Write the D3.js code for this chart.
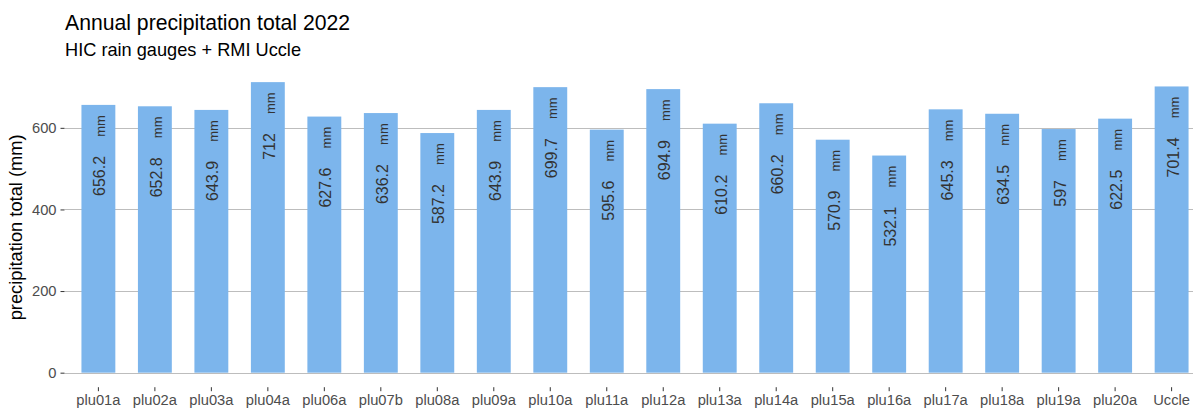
<!DOCTYPE html>
<html>
<head>
<meta charset="utf-8">
<script src="https://cdn.jsdelivr.net/npm/d3@7"></script>
<style>
  html, body { margin: 0; padding: 0; background: #fff; }
  svg { display: block; font-family: "Liberation Sans", Arial, sans-serif; }
</style>
</head>
<body>
<svg id="chart" width="1193" height="410"></svg>
<script>
const categories = ["plu01a","plu02a","plu03a","plu04a","plu06a","plu07b","plu08a","plu09a","plu10a","plu11a","plu12a","plu13a","plu14a","plu15a","plu16a","plu17a","plu18a","plu19a","plu20a","Uccle"];
const values = [656.2, 652.8, 643.9, 712, 627.6, 636.2, 587.2, 643.9, 699.7, 595.6, 694.9, 610.2, 660.2, 570.9, 532.1, 645.3, 634.5, 597, 622.5, 701.4];
const yTicks = [0, 200, 400, 600];
const titleText = "Annual precipitation total 2022";
const subtitleText = "HIC rain gauges + RMI Uccle";
const yTitle = "precipitation total (mm)";
const unitLabel = "mm";

const svg = d3.select("#chart");
const panel = {left: 64.5, right: 1205.5, top: 67.6, bottom: 387.2};

const maxV = d3.max(values);
const pad = maxV * 0.05;
const y = d3.scaleLinear().domain([-pad, maxV + pad]).range([panel.bottom, panel.top]);
const x = d3.scaleBand().domain(categories).range([panel.left, panel.right])
  .paddingInner(0.4).paddingOuter(0.3);

// grid
svg.append("g").selectAll("line").data(yTicks).join("line")
  .attr("x1", panel.left).attr("x2", panel.right)
  .attr("y1", d => Math.round(y(d)) + 0.5).attr("y2", d => Math.round(y(d)) + 0.5)
  .attr("stroke", "#bdbdbd").attr("stroke-width", 1);

// bars
svg.append("g").selectAll("rect").data(values).join("rect")
  .attr("x", (d, i) => x(categories[i]))
  .attr("width", x.bandwidth())
  .attr("y", d => y(d))
  .attr("height", d => y(0) - y(d))
  .attr("fill", "#7cb5ec");

// value labels
const labG = svg.append("g").attr("fill", "#333333");
labG.selectAll("text.v").data(values).join("text").attr("class", "v")
  .attr("transform", (d, i) => `translate(${x(categories[i]) + x.bandwidth()/2 + 7},${y(d - 125)}) rotate(-90)`)
  .attr("text-anchor", "end")
  .attr("font-size", "16px")
  .text(d => String(d));
labG.selectAll("text.u").data(values).join("text").attr("class", "u")
  .attr("transform", (d, i) => `translate(${x(categories[i]) + x.bandwidth()/2 + 7},${y(d - 25)}) rotate(-90)`)
  .attr("text-anchor", "end")
  .attr("font-size", "13px")
  .text(unitLabel);

// y axis
const yAxis = d3.axisLeft(y).tickValues(yTicks).tickSize(4).tickPadding(4);
const gy = svg.append("g").attr("transform", `translate(${panel.left},0)`).call(yAxis);
gy.select(".domain").remove();
gy.selectAll(".tick line").attr("stroke", "#333333");
gy.selectAll(".tick text").attr("fill", "#4d4d4d").attr("font-size", "14.7px")
  .attr("font-family", "Liberation Sans, Arial, sans-serif");

// x axis
const xAxis = d3.axisBottom(x).tickSize(4).tickPadding(3);
const gx = svg.append("g").attr("transform", `translate(0,${panel.bottom})`).call(xAxis);
gx.select(".domain").remove();
gx.selectAll(".tick line").attr("stroke", "#333333");
gx.selectAll(".tick text").attr("fill", "#4d4d4d").attr("font-size", "14.7px")
  .attr("font-family", "Liberation Sans, Arial, sans-serif");

// y title
svg.append("text")
  .attr("transform", `translate(22,${(panel.top + panel.bottom)/2}) rotate(-90)`)
  .attr("text-anchor", "middle")
  .attr("font-size", "18.3px")
  .attr("fill", "#000")
  .text(yTitle);

// titles
svg.append("text").attr("x", 65).attr("y", 30)
  .attr("font-size", "21.2px").attr("fill", "#000").text(titleText);
svg.append("text").attr("x", 65).attr("y", 55.5)
  .attr("font-size", "18.2px").attr("fill", "#000").text(subtitleText);
</script>
</body>
</html>
